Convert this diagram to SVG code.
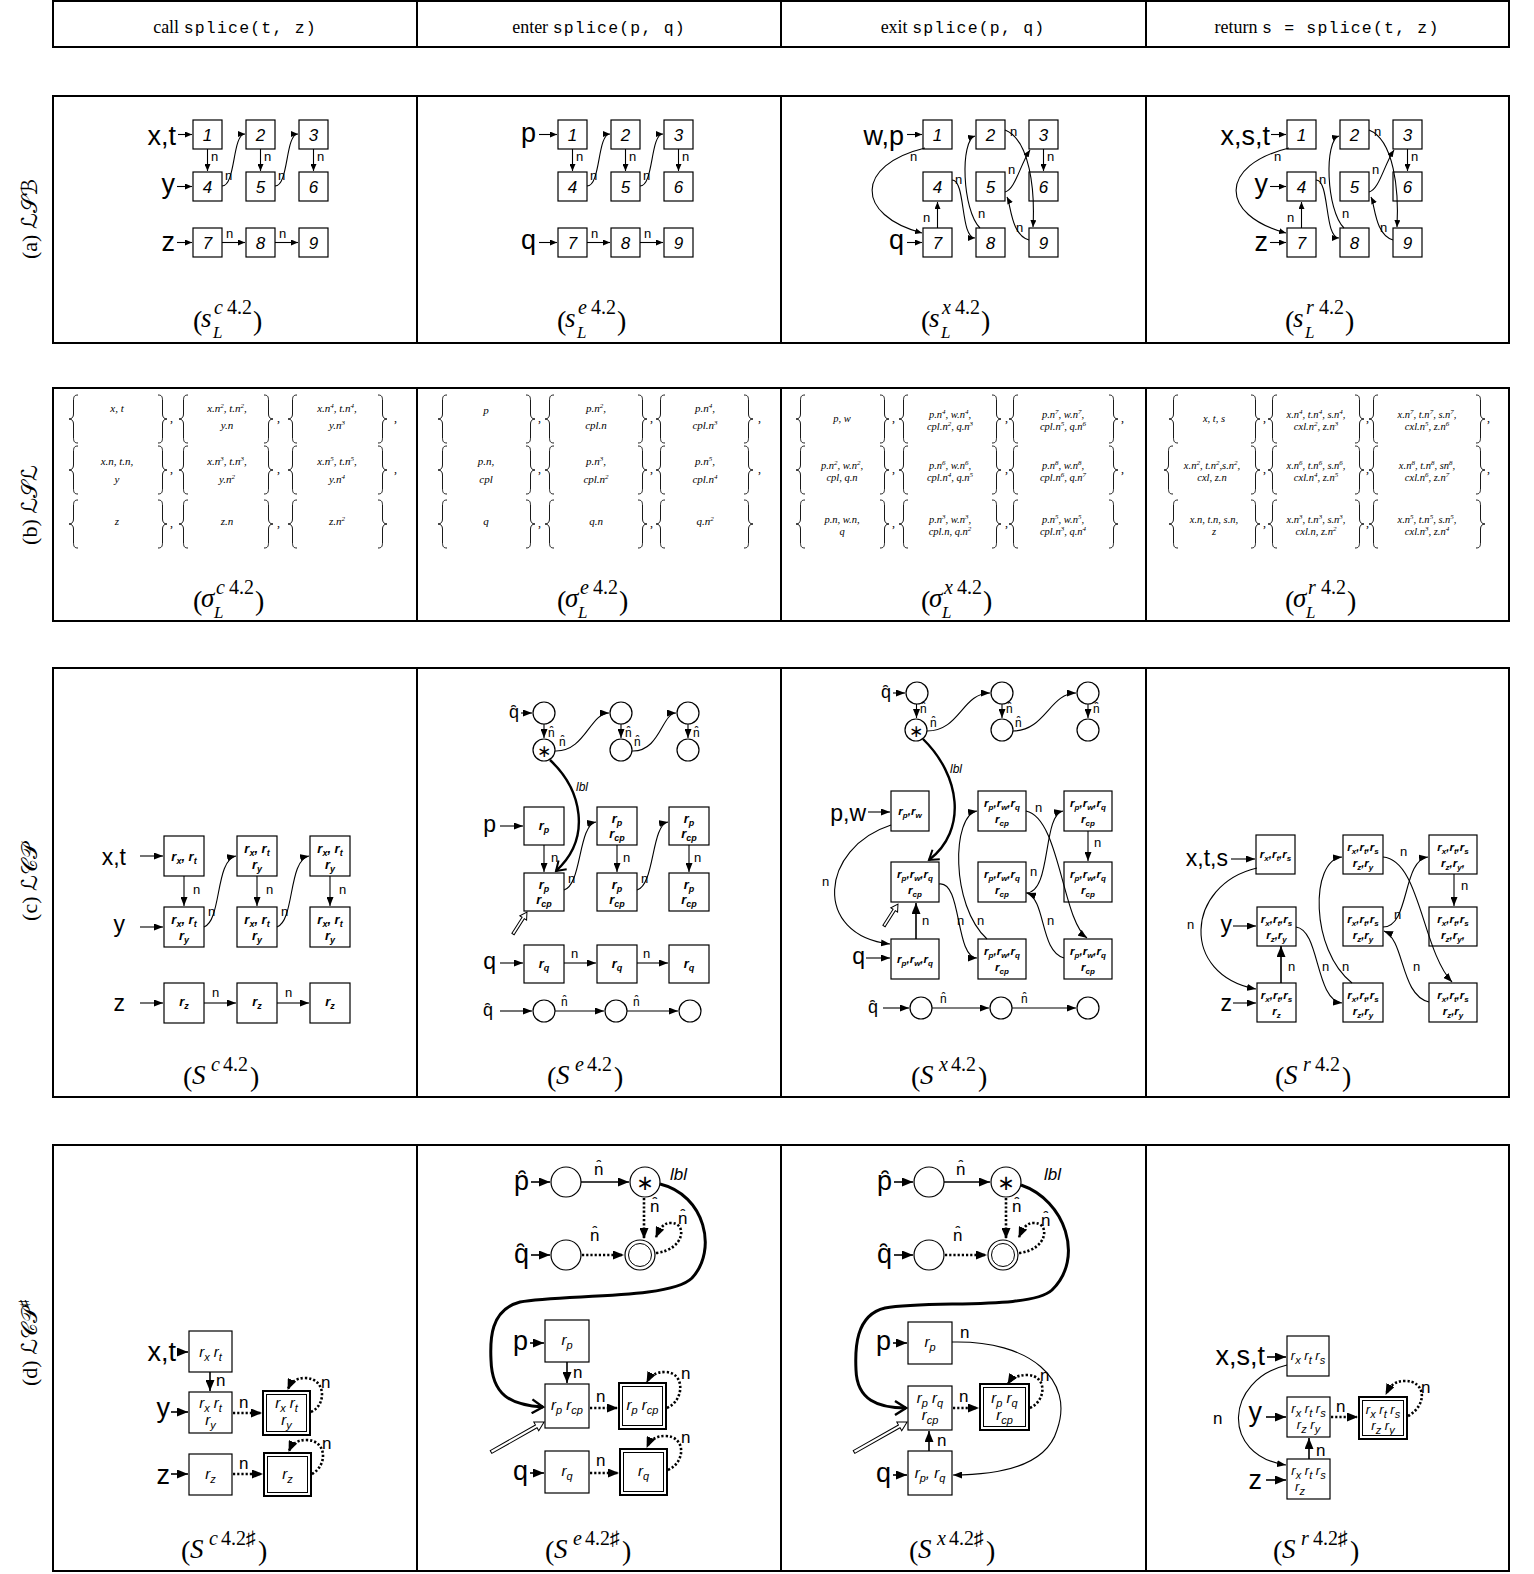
<svg xmlns="http://www.w3.org/2000/svg" width="1534" height="1574" viewBox="0 0 1534 1574">
<defs>
<style>
.fr{fill:none;stroke:#000;stroke-width:2}
.bx{fill:#fff;stroke:#000;stroke-width:1.2}
.bo{fill:#fff;stroke:#000;stroke-width:2}
.bi{fill:none;stroke:#000;stroke-width:1}
.ci{fill:#fff;stroke:#000;stroke-width:1.2}
.ea{fill:none;stroke:#000;stroke-width:1.1;marker-end:url(#ma)}
.ec{fill:none;stroke:#000;stroke-width:1.1;marker-end:url(#mc)}
.ed{fill:none;stroke:#000;stroke-width:1.6;marker-end:url(#md)}
.dt{fill:none;stroke:#000;stroke-width:2.6;stroke-dasharray:2.2 2;marker-end:url(#mt)}
.lb{fill:none;stroke:#000;stroke-width:2.4;marker-end:url(#mo)}
.lbd{fill:none;stroke:#000;stroke-width:3;marker-end:url(#mo2)}
.br{fill:none;stroke:#000;stroke-width:0.9}
.hol{fill:#fff;stroke:#000;stroke-width:1}
.L1{font-family:"Liberation Sans",Arial,sans-serif;font-size:27px;text-anchor:end}
.L2{font-family:"Liberation Sans",Arial,sans-serif;font-size:23px;text-anchor:end}
.Lh{font-family:"Liberation Sans","DejaVu Sans",sans-serif;font-size:18px;text-anchor:end}
.Lh2{font-family:"Liberation Sans","DejaVu Sans",sans-serif;font-size:27px;text-anchor:end}
.num{font-family:"Liberation Sans",Arial,sans-serif;font-size:17px;font-style:italic;text-anchor:middle}
.n1{font-family:"Liberation Sans",Arial,sans-serif;font-size:13px}
.nh{font-family:"Liberation Sans","DejaVu Sans",sans-serif;font-size:12px}
.n2{font-family:"Liberation Sans",Arial,sans-serif;font-size:17px}
.nh2{font-family:"Liberation Sans","DejaVu Sans",sans-serif;font-size:17px}
.rb{font-family:"Liberation Sans",Arial,sans-serif;font-size:13px;font-weight:bold;font-style:italic;text-anchor:middle}
.rs{font-family:"Liberation Sans",Arial,sans-serif;font-size:11.5px;font-weight:bold;font-style:italic;text-anchor:middle}
.ri{font-family:"Liberation Sans",Arial,sans-serif;font-size:15px;font-style:italic;text-anchor:middle}
.ri2{font-family:"Liberation Sans",Arial,sans-serif;font-size:13px;font-style:italic;text-anchor:middle}
.s9{font-size:9px;baseline-shift:-3px}
.s8{font-size:8px;baseline-shift:-3px}
.s11{font-size:11px;baseline-shift:-4px}
.u7{font-size:7px;baseline-shift:4px}
.st{font-family:"Liberation Serif","Times New Roman",serif;font-size:11px;font-style:italic;text-anchor:middle}
.st2{font-family:"Liberation Serif","Times New Roman",serif;font-size:10.5px;font-style:italic;text-anchor:middle}
.cm{font-family:"Liberation Serif",serif;font-size:12px}
.cap{font-family:"Liberation Serif","Times New Roman",serif;font-size:28px}
.capi{font-family:"Liberation Serif","Times New Roman",serif;font-size:27px;font-style:italic}
.cps{font-family:"Liberation Serif","Times New Roman","DejaVu Serif",serif;font-size:20px}
.cpi{font-family:"Liberation Serif","Times New Roman",serif;font-size:20px;font-style:italic}
.csb{font-family:"Liberation Serif","Times New Roman",serif;font-size:17px;font-style:italic}
.hd{font-family:"Liberation Serif","Times New Roman",serif;font-size:18px;text-anchor:middle}
.mono{font-family:"Liberation Mono","Courier New",monospace;font-size:16.5px;letter-spacing:1.2px}
.rl{font-family:"Liberation Serif","DejaVu Serif","DejaVu Sans",serif;font-size:22px;text-anchor:middle}
.lbl{font-family:"Liberation Sans",Arial,sans-serif;font-style:italic}
.ast{font-family:"DejaVu Sans",sans-serif;text-anchor:middle}
</style>
<marker id="ma" markerWidth="7" markerHeight="6" refX="7" refY="3" orient="auto" markerUnits="userSpaceOnUse"><path d="M0,0L7,3L0,6z"/></marker>
<marker id="mc" markerWidth="9" markerHeight="7" refX="9" refY="3.5" orient="auto" markerUnits="userSpaceOnUse"><path d="M0,0L9,3.5L0,7z"/></marker>
<marker id="md" markerWidth="11" markerHeight="9" refX="11" refY="4.5" orient="auto" markerUnits="userSpaceOnUse"><path d="M0,0L11,4.5L0,9z"/></marker>
<marker id="mt" markerWidth="11" markerHeight="9" refX="10" refY="4.5" orient="auto" markerUnits="userSpaceOnUse"><path d="M0,0L11,4.5L0,9z"/></marker>
<marker id="mo" markerWidth="12" markerHeight="14" refX="10" refY="7" orient="auto" markerUnits="userSpaceOnUse"><path d="M1,1L10,7L1,13" fill="none" stroke="#000" stroke-width="2"/></marker>
<marker id="mo2" markerWidth="14" markerHeight="16" refX="12" refY="8" orient="auto" markerUnits="userSpaceOnUse"><path d="M1,1L12,8L1,15" fill="none" stroke="#000" stroke-width="2.4"/></marker>
<path id="lbr" class="br" d="M9,0C5,0 4.5,2 4.5,6L4.5,19C4.5,22 3,24 0,24C3,24 4.5,26 4.5,29L4.5,42C4.5,46 5,48 9,48"/>
<path id="rbr" class="br" d="M-9,0C-5,0 -4.5,2 -4.5,6L-4.5,19C-4.5,22 -3,24 0,24C-3,24 -4.5,26 -4.5,29L-4.5,42C-4.5,46 -5,48 -9,48"/>
</defs>
<rect width="1534" height="1574" fill="#fff"/>

<g id="frames">
<rect class="fr" x="53" y="1" width="1456" height="46"/>
<path class="fr" d="M417,1V47M781,1V47M1146,1V47"/>
<rect class="fr" x="53" y="96" width="1456" height="247"/>
<path class="fr" d="M417,96V343M781,96V343M1146,96V343"/>
<rect class="fr" x="53" y="388" width="1456" height="233"/>
<path class="fr" d="M417,388V621M781,388V621M1146,388V621"/>
<rect class="fr" x="53" y="668" width="1456" height="429"/>
<path class="fr" d="M417,668V1097M781,668V1097M1146,668V1097"/>
<rect class="fr" x="53" y="1145" width="1456" height="426"/>
<path class="fr" d="M417,1145V1571M781,1145V1571M1146,1145V1571"/>
</g>

<g id="header">
<text class="hd" x="235" y="33">call <tspan class="mono">splice(t, z)</tspan></text>
<text class="hd" x="599" y="33">enter <tspan class="mono">splice(p, q)</tspan></text>
<text class="hd" x="963" y="33">exit <tspan class="mono">splice(p, q)</tspan></text>
<text class="hd" x="1327" y="33">return <tspan class="mono">s = splice(t, z)</tspan></text>
</g>

<g id="rowlabels">
<text class="rl" transform="translate(37,219) rotate(-90)">(a) ℒ𝒮ℬ</text>
<text class="rl" transform="translate(37,505) rotate(-90)">(b) ℒ𝒮ℒ</text>
<text class="rl" transform="translate(37,882) rotate(-90)">(c) ℒ𝒞𝒫</text>
<text class="rl" transform="translate(37,1343) rotate(-90)">(d) ℒ𝒞𝒫<tspan font-size="14" baseline-shift="8">♯</tspan></text>
</g>

<!-- ROW A -->
<g id="row-a">
<g id="a1" transform="translate(0,0)">
<g id="a1-n1"><rect class="bx" x="193" y="120" width="29" height="29"/><text class="num" x="207.5" y="141">1</text></g>
<g id="a1-n2"><rect class="bx" x="246" y="120" width="29" height="29"/><text class="num" x="260.5" y="141">2</text></g>
<g id="a1-n3"><rect class="bx" x="299" y="120" width="29" height="29"/><text class="num" x="313.5" y="141">3</text></g>
<g id="a1-n4"><rect class="bx" x="193" y="172" width="29" height="29"/><text class="num" x="207.5" y="193">4</text></g>
<g id="a1-n5"><rect class="bx" x="246" y="172" width="29" height="29"/><text class="num" x="260.5" y="193">5</text></g>
<g id="a1-n6"><rect class="bx" x="299" y="172" width="29" height="29"/><text class="num" x="313.5" y="193">6</text></g>
<g id="a1-n7"><rect class="bx" x="193" y="228" width="29" height="29"/><text class="num" x="207.5" y="249">7</text></g>
<g id="a1-n8"><rect class="bx" x="246" y="228" width="29" height="29"/><text class="num" x="260.5" y="249">8</text></g>
<g id="a1-n9"><rect class="bx" x="299" y="228" width="29" height="29"/><text class="num" x="313.5" y="249">9</text></g>
<g id="a1-vars"><text class="L1" x="176" y="145">x,t</text><text class="L1" x="175" y="193">y</text><text class="L1" x="175" y="251">z</text></g>
<g id="a1-edges">
<path class="ea" d="M178,134.5H192"/><path class="ea" d="M177,186.5H192"/><path class="ea" d="M177,242.5H192"/>
<path class="ea" d="M207.5,149V171"/><path class="ea" d="M222,186C236,186 232,134 245,134"/>
<path class="ea" d="M260.5,149V171"/><path class="ea" d="M275,186C289,186 285,134 298,134"/>
<path class="ea" d="M313.5,149V171"/>
<path class="ea" d="M222,242.5H245"/><path class="ea" d="M275,242.5H298"/>
<text class="n1" x="211" y="161">n</text><text class="n1" x="225" y="180">n</text><text class="n1" x="264" y="161">n</text><text class="n1" x="278" y="180">n</text><text class="n1" x="317" y="161">n</text><text class="n1" x="226" y="238">n</text><text class="n1" x="279" y="238">n</text>
</g>
</g>
<g id="a2" transform="translate(365,0)">
<g id="a2-n1"><rect class="bx" x="193" y="120" width="29" height="29"/><text class="num" x="207.5" y="141">1</text></g>
<g id="a2-n2"><rect class="bx" x="246" y="120" width="29" height="29"/><text class="num" x="260.5" y="141">2</text></g>
<g id="a2-n3"><rect class="bx" x="299" y="120" width="29" height="29"/><text class="num" x="313.5" y="141">3</text></g>
<g id="a2-n4"><rect class="bx" x="193" y="172" width="29" height="29"/><text class="num" x="207.5" y="193">4</text></g>
<g id="a2-n5"><rect class="bx" x="246" y="172" width="29" height="29"/><text class="num" x="260.5" y="193">5</text></g>
<g id="a2-n6"><rect class="bx" x="299" y="172" width="29" height="29"/><text class="num" x="313.5" y="193">6</text></g>
<g id="a2-n7"><rect class="bx" x="193" y="228" width="29" height="29"/><text class="num" x="207.5" y="249">7</text></g>
<g id="a2-n8"><rect class="bx" x="246" y="228" width="29" height="29"/><text class="num" x="260.5" y="249">8</text></g>
<g id="a2-n9"><rect class="bx" x="299" y="228" width="29" height="29"/><text class="num" x="313.5" y="249">9</text></g>
<g id="a2-vars"><text class="L1" x="171" y="142">p</text><text class="L1" x="171" y="249">q</text></g>
<g id="a2-edges">
<path class="ea" d="M174,134.5H192"/><path class="ea" d="M174,242.5H192"/>
<path class="ea" d="M207.5,149V171"/><path class="ea" d="M222,186C236,186 232,134 245,134"/>
<path class="ea" d="M260.5,149V171"/><path class="ea" d="M275,186C289,186 285,134 298,134"/>
<path class="ea" d="M313.5,149V171"/>
<path class="ea" d="M222,242.5H245"/><path class="ea" d="M275,242.5H298"/>
<text class="n1" x="211" y="161">n</text><text class="n1" x="225" y="180">n</text><text class="n1" x="264" y="161">n</text><text class="n1" x="278" y="180">n</text><text class="n1" x="317" y="161">n</text><text class="n1" x="226" y="238">n</text><text class="n1" x="279" y="238">n</text>
</g>
</g>
<g id="a3" transform="translate(730,0)">
<g id="a3-n1"><rect class="bx" x="193" y="120" width="29" height="29"/><text class="num" x="207.5" y="141">1</text></g>
<g id="a3-n2"><rect class="bx" x="246" y="120" width="29" height="29"/><text class="num" x="260.5" y="141">2</text></g>
<g id="a3-n3"><rect class="bx" x="299" y="120" width="29" height="29"/><text class="num" x="313.5" y="141">3</text></g>
<g id="a3-n4"><rect class="bx" x="193" y="172" width="29" height="29"/><text class="num" x="207.5" y="193">4</text></g>
<g id="a3-n5"><rect class="bx" x="246" y="172" width="29" height="29"/><text class="num" x="260.5" y="193">5</text></g>
<g id="a3-n6"><rect class="bx" x="299" y="172" width="29" height="29"/><text class="num" x="313.5" y="193">6</text></g>
<g id="a3-n7"><rect class="bx" x="193" y="228" width="29" height="29"/><text class="num" x="207.5" y="249">7</text></g>
<g id="a3-n8"><rect class="bx" x="246" y="228" width="29" height="29"/><text class="num" x="260.5" y="249">8</text></g>
<g id="a3-n9"><rect class="bx" x="299" y="228" width="29" height="29"/><text class="num" x="313.5" y="249">9</text></g>
<g id="a3-vars"><text class="L1" x="174" y="145">w,p</text><text class="L1" x="174" y="249">q</text></g>
<g id="a3-edges">
<path class="ea" d="M177,134.5H192"/><path class="ea" d="M177,242.5H192"/>
<path class="ea" d="M195,148C125,165 125,215 192,233"/>
<path class="ea" d="M207.5,228V202"/>
<path class="ea" d="M222,180C236,180 230,238 245,238"/>
<path class="ea" d="M250,228C232,210 230,140 245,136"/>
<path class="ea" d="M275,130C300,140 305,190 303,227"/>
<path class="ea" d="M275,192C285,190 290,165 300,150"/>
<path class="ea" d="M313.5,149V171"/>
<path class="ea" d="M299,240C281,235 281,205 277,197"/>
<text class="n1" x="180" y="161">n</text><text class="n1" x="193" y="222">n</text><text class="n1" x="225" y="184">n</text><text class="n1" x="248" y="218">n</text><text class="n1" x="280" y="136">n</text><text class="n1" x="278" y="174">n</text><text class="n1" x="317" y="161">n</text><text class="n1" x="286" y="232">n</text>
</g>
</g>
<g id="a4" transform="translate(1094,0)">
<g id="a4-n1"><rect class="bx" x="193" y="120" width="29" height="29"/><text class="num" x="207.5" y="141">1</text></g>
<g id="a4-n2"><rect class="bx" x="246" y="120" width="29" height="29"/><text class="num" x="260.5" y="141">2</text></g>
<g id="a4-n3"><rect class="bx" x="299" y="120" width="29" height="29"/><text class="num" x="313.5" y="141">3</text></g>
<g id="a4-n4"><rect class="bx" x="193" y="172" width="29" height="29"/><text class="num" x="207.5" y="193">4</text></g>
<g id="a4-n5"><rect class="bx" x="246" y="172" width="29" height="29"/><text class="num" x="260.5" y="193">5</text></g>
<g id="a4-n6"><rect class="bx" x="299" y="172" width="29" height="29"/><text class="num" x="313.5" y="193">6</text></g>
<g id="a4-n7"><rect class="bx" x="193" y="228" width="29" height="29"/><text class="num" x="207.5" y="249">7</text></g>
<g id="a4-n8"><rect class="bx" x="246" y="228" width="29" height="29"/><text class="num" x="260.5" y="249">8</text></g>
<g id="a4-n9"><rect class="bx" x="299" y="228" width="29" height="29"/><text class="num" x="313.5" y="249">9</text></g>
<g id="a4-vars"><text class="L1" x="176" y="145">x,s,t</text><text class="L1" x="174" y="193">y</text><text class="L1" x="174" y="251">z</text></g>
<g id="a4-edges">
<path class="ea" d="M177,134.5H192"/><path class="ea" d="M176,186.5H192"/><path class="ea" d="M176,242.5H192"/>
<path class="ea" d="M195,148C125,165 125,215 192,233"/>
<path class="ea" d="M207.5,228V202"/>
<path class="ea" d="M222,180C236,180 230,238 245,238"/>
<path class="ea" d="M250,228C232,210 230,140 245,136"/>
<path class="ea" d="M275,130C300,140 305,190 303,227"/>
<path class="ea" d="M275,192C285,190 290,165 300,150"/>
<path class="ea" d="M313.5,149V171"/>
<path class="ea" d="M299,240C281,235 281,205 277,197"/>
<text class="n1" x="180" y="161">n</text><text class="n1" x="193" y="222">n</text><text class="n1" x="225" y="184">n</text><text class="n1" x="248" y="218">n</text><text class="n1" x="280" y="136">n</text><text class="n1" x="278" y="174">n</text><text class="n1" x="317" y="161">n</text><text class="n1" x="286" y="232">n</text>
</g>
</g>
<g id="cap-a">
<text class="cap" x="193" y="330">(</text><text class="capi" x="201" y="327">s</text><text class="cpi" x="214" y="314">c</text><text class="cps" x="227" y="314">4.2</text><text class="csb" x="213" y="338">L</text><text class="cap" x="253" y="330">)</text>
<text class="cap" x="557" y="330">(</text><text class="capi" x="565" y="327">s</text><text class="cpi" x="578" y="314">e</text><text class="cps" x="591" y="314">4.2</text><text class="csb" x="577" y="338">L</text><text class="cap" x="617" y="330">)</text>
<text class="cap" x="921" y="330">(</text><text class="capi" x="929" y="327">s</text><text class="cpi" x="942" y="314">x</text><text class="cps" x="955" y="314">4.2</text><text class="csb" x="941" y="338">L</text><text class="cap" x="981" y="330">)</text>
<text class="cap" x="1285" y="330">(</text><text class="capi" x="1293" y="327">s</text><text class="cpi" x="1306" y="314">r</text><text class="cps" x="1319" y="314">4.2</text><text class="csb" x="1305" y="338">L</text><text class="cap" x="1345" y="330">)</text>
</g>
</g>

<!-- ROW B -->
<g id="row-b">
<g id="b-braces">
<use href="#lbr" x="69" y="395"/><use href="#rbr" x="167" y="395"/><use href="#lbr" x="179" y="395"/><use href="#rbr" x="273" y="395"/><use href="#lbr" x="288" y="395"/><use href="#rbr" x="387" y="395"/>
<use href="#lbr" x="69" y="446"/><use href="#rbr" x="167" y="446"/><use href="#lbr" x="179" y="446"/><use href="#rbr" x="273" y="446"/><use href="#lbr" x="288" y="446"/><use href="#rbr" x="387" y="446"/>
<use href="#lbr" x="69" y="500"/><use href="#rbr" x="167" y="500"/><use href="#lbr" x="179" y="500"/><use href="#rbr" x="273" y="500"/><use href="#lbr" x="288" y="500"/><use href="#rbr" x="387" y="500"/>
<use href="#lbr" x="438" y="395"/><use href="#rbr" x="535" y="395"/><use href="#lbr" x="545" y="395"/><use href="#rbr" x="647" y="395"/><use href="#lbr" x="656" y="395"/><use href="#rbr" x="753" y="395"/>
<use href="#lbr" x="438" y="446"/><use href="#rbr" x="535" y="446"/><use href="#lbr" x="545" y="446"/><use href="#rbr" x="647" y="446"/><use href="#lbr" x="656" y="446"/><use href="#rbr" x="753" y="446"/>
<use href="#lbr" x="438" y="500"/><use href="#rbr" x="535" y="500"/><use href="#lbr" x="545" y="500"/><use href="#rbr" x="647" y="500"/><use href="#lbr" x="656" y="500"/><use href="#rbr" x="753" y="500"/>
<use href="#lbr" x="796" y="395"/><use href="#rbr" x="889" y="395"/><use href="#lbr" x="899" y="395"/><use href="#rbr" x="1001" y="395"/><use href="#lbr" x="1009" y="395"/><use href="#rbr" x="1118" y="395"/>
<use href="#lbr" x="796" y="446"/><use href="#rbr" x="889" y="446"/><use href="#lbr" x="899" y="446"/><use href="#rbr" x="1001" y="446"/><use href="#lbr" x="1009" y="446"/><use href="#rbr" x="1118" y="446"/>
<use href="#lbr" x="796" y="500"/><use href="#rbr" x="889" y="500"/><use href="#lbr" x="899" y="500"/><use href="#rbr" x="1001" y="500"/><use href="#lbr" x="1009" y="500"/><use href="#rbr" x="1118" y="500"/>
<use href="#lbr" x="1169" y="395"/><use href="#rbr" x="1260" y="395"/><use href="#lbr" x="1268" y="395"/><use href="#rbr" x="1364" y="395"/><use href="#lbr" x="1369" y="395"/><use href="#rbr" x="1485" y="395"/>
<use href="#lbr" x="1164" y="446"/><use href="#rbr" x="1260" y="446"/><use href="#lbr" x="1268" y="446"/><use href="#rbr" x="1364" y="446"/><use href="#lbr" x="1369" y="446"/><use href="#rbr" x="1485" y="446"/>
<use href="#lbr" x="1169" y="500"/><use href="#rbr" x="1260" y="500"/><use href="#lbr" x="1268" y="500"/><use href="#rbr" x="1364" y="500"/><use href="#lbr" x="1369" y="500"/><use href="#rbr" x="1485" y="500"/>
</g>
<g id="b-commas" class="cm">
<text x="170" y="422">,</text><text x="277" y="422">,</text><text x="394" y="422">,</text>
<text x="170" y="473">,</text><text x="277" y="473">,</text><text x="394" y="473">,</text>
<text x="170" y="527">,</text><text x="277" y="527">,</text>
<text x="538" y="422">,</text><text x="650" y="422">,</text><text x="758" y="422">,</text>
<text x="538" y="473">,</text><text x="650" y="473">,</text><text x="758" y="473">,</text>
<text x="538" y="527">,</text><text x="650" y="527">,</text>
<text x="892" y="422">,</text><text x="1005" y="422">,</text><text x="1121" y="422">,</text>
<text x="892" y="473">,</text><text x="1005" y="473">,</text><text x="1121" y="473">,</text>
<text x="892" y="527">,</text><text x="1005" y="527">,</text>
<text x="1263" y="422">,</text><text x="1366" y="422">,</text><text x="1487" y="422">,</text>
<text x="1263" y="473">,</text><text x="1366" y="473">,</text><text x="1487" y="473">,</text>
<text x="1263" y="527">,</text><text x="1366" y="527">,</text>
</g>
<g id="b1-sets">
<text class="st" x="117" y="412">x, t</text>
<text class="st" x="227" y="412">x.n<tspan class="u7">2</tspan>, t.n<tspan class="u7">2</tspan>,</text><text class="st" x="227" y="429">y.n</text>
<text class="st" x="337" y="412">x.n<tspan class="u7">4</tspan>, t.n<tspan class="u7">4</tspan>,</text><text class="st" x="337" y="429">y.n<tspan class="u7">3</tspan></text>
<text class="st" x="117" y="465">x.n, t.n,</text><text class="st" x="117" y="483">y</text>
<text class="st" x="227" y="465">x.n<tspan class="u7">3</tspan>, t.n<tspan class="u7">3</tspan>,</text><text class="st" x="227" y="483">y.n<tspan class="u7">2</tspan></text>
<text class="st" x="337" y="465">x.n<tspan class="u7">5</tspan>, t.n<tspan class="u7">5</tspan>,</text><text class="st" x="337" y="483">y.n<tspan class="u7">4</tspan></text>
<text class="st" x="117" y="525">z</text><text class="st" x="227" y="525">z.n</text><text class="st" x="337" y="525">z.n<tspan class="u7">2</tspan></text>
</g>
<g id="b2-sets">
<text class="st" x="486" y="414">p</text>
<text class="st" x="596" y="412">p.n<tspan class="u7">2</tspan>,</text><text class="st" x="596" y="429">cpl.n</text>
<text class="st" x="705" y="412">p.n<tspan class="u7">4</tspan>,</text><text class="st" x="705" y="429">cpl.n<tspan class="u7">3</tspan></text>
<text class="st" x="486" y="465">p.n,</text><text class="st" x="486" y="483">cpl</text>
<text class="st" x="596" y="465">p.n<tspan class="u7">3</tspan>,</text><text class="st" x="596" y="483">cpl.n<tspan class="u7">2</tspan></text>
<text class="st" x="705" y="465">p.n<tspan class="u7">5</tspan>,</text><text class="st" x="705" y="483">cpl.n<tspan class="u7">4</tspan></text>
<text class="st" x="486" y="525">q</text><text class="st" x="596" y="525">q.n</text><text class="st" x="705" y="525">q.n<tspan class="u7">2</tspan></text>
</g>
<g id="b3-sets">
<text class="st2" x="842" y="422">p, w</text>
<text class="st2" x="950" y="418">p.n<tspan class="u7">4</tspan>, w.n<tspan class="u7">4</tspan>,</text><text class="st2" x="950" y="430">cpl.n<tspan class="u7">2</tspan>, q.n<tspan class="u7">3</tspan></text>
<text class="st2" x="1063" y="418">p.n<tspan class="u7">7</tspan>, w.n<tspan class="u7">7</tspan>,</text><text class="st2" x="1063" y="430">cpl.n<tspan class="u7">5</tspan>, q.n<tspan class="u7">6</tspan></text>
<text class="st2" x="842" y="469">p.n<tspan class="u7">2</tspan>, w.n<tspan class="u7">2</tspan>,</text><text class="st2" x="842" y="481">cpl, q.n</text>
<text class="st2" x="950" y="469">p.n<tspan class="u7">6</tspan>, w.n<tspan class="u7">6</tspan>,</text><text class="st2" x="950" y="481">cpl.n<tspan class="u7">4</tspan>, q.n<tspan class="u7">5</tspan></text>
<text class="st2" x="1063" y="469">p.n<tspan class="u7">8</tspan>, w.n<tspan class="u7">8</tspan>,</text><text class="st2" x="1063" y="481">cpl.n<tspan class="u7">6</tspan>, q.n<tspan class="u7">7</tspan></text>
<text class="st2" x="842" y="523">p.n, w.n,</text><text class="st2" x="842" y="535">q</text>
<text class="st2" x="950" y="523">p.n<tspan class="u7">3</tspan>, w.n<tspan class="u7">3</tspan>,</text><text class="st2" x="950" y="535">cpl.n, q.n<tspan class="u7">2</tspan></text>
<text class="st2" x="1063" y="523">p.n<tspan class="u7">5</tspan>, w.n<tspan class="u7">5</tspan>,</text><text class="st2" x="1063" y="535">cpl.n<tspan class="u7">3</tspan>, q.n<tspan class="u7">4</tspan></text>
</g>
<g id="b4-sets">
<text class="st2" x="1214" y="422">x, t, s</text>
<text class="st2" x="1316" y="418">x.n<tspan class="u7">4</tspan>, t.n<tspan class="u7">4</tspan>, s.n<tspan class="u7">4</tspan>,</text><text class="st2" x="1316" y="430">cxl.n<tspan class="u7">2</tspan>, z.n<tspan class="u7">3</tspan></text>
<text class="st2" x="1427" y="418">x.n<tspan class="u7">7</tspan>, t.n<tspan class="u7">7</tspan>, s.n<tspan class="u7">7</tspan>,</text><text class="st2" x="1427" y="430">cxl.n<tspan class="u7">5</tspan>, z.n<tspan class="u7">6</tspan></text>
<text class="st2" x="1212" y="469">x.n<tspan class="u7">2</tspan>, t.n<tspan class="u7">2</tspan>,s.n<tspan class="u7">2</tspan>,</text><text class="st2" x="1212" y="481">cxl, z.n</text>
<text class="st2" x="1316" y="469">x.n<tspan class="u7">6</tspan>, t.n<tspan class="u7">6</tspan>, s.n<tspan class="u7">6</tspan>,</text><text class="st2" x="1316" y="481">cxl.n<tspan class="u7">4</tspan>, z.n<tspan class="u7">5</tspan></text>
<text class="st2" x="1427" y="469">x.n<tspan class="u7">8</tspan>, t.n<tspan class="u7">8</tspan>, sn<tspan class="u7">8</tspan>,</text><text class="st2" x="1427" y="481">cxl.n<tspan class="u7">6</tspan>, z.n<tspan class="u7">7</tspan></text>
<text class="st2" x="1214" y="523">x.n, t.n, s.n,</text><text class="st2" x="1214" y="535">z</text>
<text class="st2" x="1316" y="523">x.n<tspan class="u7">3</tspan>, t.n<tspan class="u7">3</tspan>, s.n<tspan class="u7">3</tspan>,</text><text class="st2" x="1316" y="535">cxl.n, z.n<tspan class="u7">2</tspan></text>
<text class="st2" x="1427" y="523">x.n<tspan class="u7">5</tspan>, t.n<tspan class="u7">5</tspan>, s.n<tspan class="u7">5</tspan>,</text><text class="st2" x="1427" y="535">cxl.n<tspan class="u7">3</tspan>, z.n<tspan class="u7">4</tspan></text>
</g>
<g id="cap-b">
<text class="cap" x="193" y="610">(</text><text class="capi" x="201" y="607">σ</text><text class="cpi" x="216" y="594">c</text><text class="cps" x="229" y="594">4.2</text><text class="csb" x="214" y="618">L</text><text class="cap" x="255" y="610">)</text>
<text class="cap" x="557" y="610">(</text><text class="capi" x="565" y="607">σ</text><text class="cpi" x="580" y="594">e</text><text class="cps" x="593" y="594">4.2</text><text class="csb" x="578" y="618">L</text><text class="cap" x="619" y="610">)</text>
<text class="cap" x="921" y="610">(</text><text class="capi" x="929" y="607">σ</text><text class="cpi" x="944" y="594">x</text><text class="cps" x="957" y="594">4.2</text><text class="csb" x="942" y="618">L</text><text class="cap" x="983" y="610">)</text>
<text class="cap" x="1285" y="610">(</text><text class="capi" x="1293" y="607">σ</text><text class="cpi" x="1308" y="594">r</text><text class="cps" x="1321" y="594">4.2</text><text class="csb" x="1306" y="618">L</text><text class="cap" x="1347" y="610">)</text>
</g>
</g>

<!-- ROW C col1 -->
<g id="row-c">
<g id="c1">
<g id="c1-a"><rect class="bx" x="164" y="836" width="40" height="40"/><text class="rb" x="184" y="861">r<tspan class="s9">x</tspan>, r<tspan class="s9">t</tspan></text></g>
<g id="c1-b"><rect class="bx" x="237" y="836" width="40" height="40"/><text class="rb" x="257" y="853">r<tspan class="s9">x</tspan>, r<tspan class="s9">t</tspan></text><text class="rb" x="257" y="869">r<tspan class="s9">y</tspan></text></g>
<g id="c1-c"><rect class="bx" x="310" y="836" width="40" height="40"/><text class="rb" x="330" y="853">r<tspan class="s9">x</tspan>, r<tspan class="s9">t</tspan></text><text class="rb" x="330" y="869">r<tspan class="s9">y</tspan></text></g>
<g id="c1-d"><rect class="bx" x="164" y="907" width="40" height="40"/><text class="rb" x="184" y="924">r<tspan class="s9">x</tspan>, r<tspan class="s9">t</tspan></text><text class="rb" x="184" y="940">r<tspan class="s9">y</tspan></text></g>
<g id="c1-e"><rect class="bx" x="237" y="907" width="40" height="40"/><text class="rb" x="257" y="924">r<tspan class="s9">x</tspan>, r<tspan class="s9">t</tspan></text><text class="rb" x="257" y="940">r<tspan class="s9">y</tspan></text></g>
<g id="c1-f"><rect class="bx" x="310" y="907" width="40" height="40"/><text class="rb" x="330" y="924">r<tspan class="s9">x</tspan>, r<tspan class="s9">t</tspan></text><text class="rb" x="330" y="940">r<tspan class="s9">y</tspan></text></g>
<g id="c1-g"><rect class="bx" x="164" y="983" width="40" height="40"/><text class="rb" x="184" y="1006">r<tspan class="s9">z</tspan></text></g>
<g id="c1-h"><rect class="bx" x="237" y="983" width="40" height="40"/><text class="rb" x="257" y="1006">r<tspan class="s9">z</tspan></text></g>
<g id="c1-i"><rect class="bx" x="310" y="983" width="40" height="40"/><text class="rb" x="330" y="1006">r<tspan class="s9">z</tspan></text></g>
<g id="c1-vars"><text class="L2" x="126" y="865">x,t</text><text class="L2" x="125" y="932">y</text><text class="L2" x="125" y="1011">z</text></g>
<g id="c1-edges">
<path class="ec" d="M140,856H163"/><path class="ec" d="M140,927H163"/><path class="ec" d="M140,1003H163"/>
<path class="ec" d="M184,876V906"/><path class="ec" d="M204,927C222,920 215,860 236,856"/>
<path class="ec" d="M257,876V906"/><path class="ec" d="M277,927C295,920 288,860 309,856"/>
<path class="ec" d="M330,876V906"/>
<path class="ec" d="M204,1003H236"/><path class="ec" d="M277,1003H309"/>
<text class="n1" x="193" y="894">n</text><text class="n1" x="208" y="916">n</text><text class="n1" x="266" y="894">n</text><text class="n1" x="281" y="916">n</text><text class="n1" x="339" y="894">n</text><text class="n1" x="212" y="997">n</text><text class="n1" x="285" y="997">n</text>
</g>
</g>

<!-- ROW C col2 -->
<g id="c2">
<g id="c2-q1"><circle class="ci" cx="544" cy="713" r="11"/></g>
<g id="c2-star"><circle class="ci" cx="544" cy="750" r="11"/><text class="ast" x="544" y="757" font-size="17">∗</text></g>
<g id="c2-b"><circle class="ci" cx="621" cy="713" r="11"/></g>
<g id="c2-c"><circle class="ci" cx="621" cy="750" r="11"/></g>
<g id="c2-d"><circle class="ci" cx="688" cy="713" r="11"/></g>
<g id="c2-e"><circle class="ci" cx="688" cy="750" r="11"/></g>
<g id="c2-p1"><rect class="bx" x="524" y="807" width="40" height="38"/><text class="rb" x="544" y="830">r<tspan class="s9">p</tspan></text></g>
<g id="c2-p2"><rect class="bx" x="597" y="807" width="40" height="38"/><text class="rb" x="617" y="823">r<tspan class="s9">p</tspan></text><text class="rb" x="617" y="838">r<tspan class="s9">cp</tspan></text></g>
<g id="c2-p3"><rect class="bx" x="669" y="807" width="40" height="38"/><text class="rb" x="689" y="823">r<tspan class="s9">p</tspan></text><text class="rb" x="689" y="838">r<tspan class="s9">cp</tspan></text></g>
<g id="c2-m1"><rect class="bx" x="524" y="873" width="40" height="38"/><text class="rb" x="544" y="889">r<tspan class="s9">p</tspan></text><text class="rb" x="544" y="904">r<tspan class="s9">cp</tspan></text></g>
<g id="c2-m2"><rect class="bx" x="597" y="873" width="40" height="38"/><text class="rb" x="617" y="889">r<tspan class="s9">p</tspan></text><text class="rb" x="617" y="904">r<tspan class="s9">cp</tspan></text></g>
<g id="c2-m3"><rect class="bx" x="669" y="873" width="40" height="38"/><text class="rb" x="689" y="889">r<tspan class="s9">p</tspan></text><text class="rb" x="689" y="904">r<tspan class="s9">cp</tspan></text></g>
<g id="c2-r1"><rect class="bx" x="524" y="945" width="40" height="38"/><text class="rb" x="544" y="968">r<tspan class="s9">q</tspan></text></g>
<g id="c2-r2"><rect class="bx" x="597" y="945" width="40" height="38"/><text class="rb" x="617" y="968">r<tspan class="s9">q</tspan></text></g>
<g id="c2-r3"><rect class="bx" x="669" y="945" width="40" height="38"/><text class="rb" x="689" y="968">r<tspan class="s9">q</tspan></text></g>
<g id="c2-h1"><circle class="ci" cx="544" cy="1011" r="11"/></g>
<g id="c2-h2"><circle class="ci" cx="616" cy="1011" r="11"/></g>
<g id="c2-h3"><circle class="ci" cx="690" cy="1011" r="11"/></g>
<g id="c2-vars"><text class="Lh" x="519" y="718">q̑</text><text class="L2" x="496" y="832">p</text><text class="L2" x="496" y="969">q</text><text class="Lh" x="493" y="1016">q̑</text></g>
<g id="c2-edges">
<path class="ec" d="M521,713H532"/>
<path class="ec" d="M544,724V738"/><path class="ec" d="M555,751C585,752 590,713 609,713"/>
<path class="ec" d="M621,724V738"/><path class="ec" d="M632,751C660,752 662,713 676,713"/>
<path class="ec" d="M688,724V738"/>
<path class="lb" d="M550,760C582,790 592,838 556,871"/>
<text class="lbl" x="576" y="791" font-size="12">lbl</text>
<path class="ec" d="M500,826H523"/>
<path class="ec" d="M544,845V872"/><path class="ec" d="M617,845V872"/><path class="ec" d="M689,845V872"/>
<path class="ec" d="M564,890C582,885 578,825 596,822"/><path class="ec" d="M637,890C655,885 651,825 668,822"/>
<path class="hol" transform="translate(513,934) rotate(-57.5)" d="M0,-1.3L19,-1.3L19,-4L26,0L19,4L19,1.3L0,1.3Z"/>
<path class="ec" d="M500,963H523"/><path class="ec" d="M564,963H596"/><path class="ec" d="M637,963H668"/>
<path class="ec" d="M500,1011H532"/><path class="ec" d="M555,1011H604"/><path class="ec" d="M627,1011H678"/>
<text class="nh" x="548" y="737">n̑</text><text class="nh" x="559" y="746">n̑</text><text class="nh" x="625" y="737">n̑</text><text class="nh" x="634" y="746">n̑</text><text class="nh" x="693" y="737">n̑</text>
<text class="n1" x="551" y="862">n</text><text class="n1" x="623" y="862">n</text><text class="n1" x="694" y="862">n</text>
<text class="n1" x="568" y="883">n</text><text class="n1" x="641" y="883">n</text>
<text class="n1" x="571" y="958">n</text><text class="n1" x="643" y="958">n</text>
<text class="nh" x="561" y="1006">n̑</text><text class="nh" x="633" y="1006">n̑</text>
</g>
</g>

<!-- ROW C col3 -->
<g id="c3">
<g id="c3-q1"><circle class="ci" cx="917" cy="693" r="11"/></g>
<g id="c3-star"><circle class="ci" cx="916" cy="730" r="11"/><text class="ast" x="916" y="737" font-size="17">∗</text></g>
<g id="c3-b"><circle class="ci" cx="1002" cy="693" r="11"/></g>
<g id="c3-c"><circle class="ci" cx="1002" cy="730" r="11"/></g>
<g id="c3-d"><circle class="ci" cx="1088" cy="693" r="11"/></g>
<g id="c3-e"><circle class="ci" cx="1088" cy="730" r="11"/></g>
<g id="c3-p"><rect class="bx" x="891" y="791" width="38" height="40"/><text class="rs" x="910" y="815">r<tspan class="s8">p</tspan>,r<tspan class="s8">w</tspan></text></g>
<g id="c3-m"><rect class="bx" x="891" y="862" width="48" height="40"/><text class="rs" x="915" y="878">r<tspan class="s8">p</tspan>,r<tspan class="s8">w</tspan>,r<tspan class="s8">q</tspan></text><text class="rs" x="915" y="894">r<tspan class="s8">cp</tspan></text></g>
<g id="c3-q"><rect class="bx" x="891" y="939" width="48" height="40"/><text class="rs" x="915" y="963">r<tspan class="s8">p</tspan>,r<tspan class="s8">w</tspan>,r<tspan class="s8">q</tspan></text></g>
<g id="c3-c2a"><rect class="bx" x="978" y="791" width="48" height="40"/><text class="rs" x="1002" y="807">r<tspan class="s8">p</tspan>,r<tspan class="s8">w</tspan>,r<tspan class="s8">q</tspan></text><text class="rs" x="1002" y="823">r<tspan class="s8">cp</tspan></text></g>
<g id="c3-c2b"><rect class="bx" x="978" y="862" width="48" height="40"/><text class="rs" x="1002" y="878">r<tspan class="s8">p</tspan>,r<tspan class="s8">w</tspan>,r<tspan class="s8">q</tspan></text><text class="rs" x="1002" y="894">r<tspan class="s8">cp</tspan></text></g>
<g id="c3-c2c"><rect class="bx" x="978" y="939" width="48" height="40"/><text class="rs" x="1002" y="955">r<tspan class="s8">p</tspan>,r<tspan class="s8">w</tspan>,r<tspan class="s8">q</tspan></text><text class="rs" x="1002" y="971">r<tspan class="s8">cp</tspan></text></g>
<g id="c3-c3a"><rect class="bx" x="1064" y="791" width="48" height="40"/><text class="rs" x="1088" y="807">r<tspan class="s8">p</tspan>,r<tspan class="s8">w</tspan>,r<tspan class="s8">q</tspan></text><text class="rs" x="1088" y="823">r<tspan class="s8">cp</tspan></text></g>
<g id="c3-c3b"><rect class="bx" x="1064" y="862" width="48" height="40"/><text class="rs" x="1088" y="878">r<tspan class="s8">p</tspan>,r<tspan class="s8">w</tspan>,r<tspan class="s8">q</tspan></text><text class="rs" x="1088" y="894">r<tspan class="s8">cp</tspan></text></g>
<g id="c3-c3c"><rect class="bx" x="1064" y="939" width="48" height="40"/><text class="rs" x="1088" y="955">r<tspan class="s8">p</tspan>,r<tspan class="s8">w</tspan>,r<tspan class="s8">q</tspan></text><text class="rs" x="1088" y="971">r<tspan class="s8">cp</tspan></text></g>
<g id="c3-h1"><circle class="ci" cx="921" cy="1008" r="11"/></g>
<g id="c3-h2"><circle class="ci" cx="1001" cy="1008" r="11"/></g>
<g id="c3-h3"><circle class="ci" cx="1088" cy="1008" r="11"/></g>
<g id="c3-vars"><text class="Lh" x="891" y="698">q̑</text><text class="L2" x="866" y="821">p,w</text><text class="L2" x="865" y="964">q</text><text class="Lh" x="878" y="1013">q̑</text></g>
<g id="c3-edges">
<path class="ec" d="M893,693H905"/>
<path class="ec" d="M916.5,704V718"/><path class="ec" d="M927,731C960,731 962,693 990,693"/>
<path class="ec" d="M1002,704V718"/><path class="ec" d="M1013,731C1045,731 1050,693 1076,693"/>
<path class="ec" d="M1088,704V718"/>
<path class="lb" d="M923,739C960,775 968,830 929,860"/>
<text class="lbl" x="950" y="773" font-size="12">lbl</text>
<path class="ec" d="M868,812H890"/><path class="ec" d="M866,958H890"/>
<path class="ec" d="M891,825C820,848 812,935 890,944"/>
<path class="ed" d="M916,939V903"/>
<path class="hol" transform="translate(884,926) rotate(-57.5)" d="M0,-1.3L19,-1.3L19,-4L26,0L19,4L19,1.3L0,1.3Z"/>
<path class="ec" d="M939,884C962,880 955,958 977,958"/>
<path class="ec" d="M987,939C950,905 952,815 977,811"/>
<path class="ec" d="M1026,811C1060,818 1062,920 1087,938"/>
<path class="ec" d="M1026,893C1052,893 1042,815 1063,811"/>
<path class="ec" d="M1088,831V861"/>
<path class="ec" d="M1064,958C1040,952 1046,900 1027,893"/>
<path class="ec" d="M883,1008H909"/><path class="ec" d="M932,1008H989"/><path class="ec" d="M1012,1008H1076"/>
<text class="nh" x="920" y="713">n̑</text><text class="nh" x="930" y="727">n̑</text><text class="nh" x="1006" y="713">n̑</text><text class="nh" x="1015" y="727">n̑</text><text class="nh" x="1093" y="713">n̑</text>
<text class="n1" x="822" y="886">n</text><text class="n1" x="922" y="925">n</text><text class="n1" x="957" y="925">n</text><text class="n1" x="977" y="925">n</text><text class="n1" x="1035" y="812">n</text><text class="n1" x="1030" y="876">n</text><text class="n1" x="1094" y="847">n</text><text class="n1" x="1047" y="925">n</text>
<text class="nh" x="940" y="1003">n̑</text><text class="nh" x="1021" y="1003">n̑</text>
</g>
</g>

<!-- ROW C col4 -->
<g id="c4">
<g id="c4-a"><rect class="bx" x="1256" y="835" width="39" height="39"/><text class="rs" x="1275.5" y="858">r<tspan class="s8">x</tspan>,r<tspan class="s8">t</tspan>,r<tspan class="s8">s</tspan></text></g>
<g id="c4-y"><rect class="bx" x="1257" y="907" width="39" height="39"/><text class="rs" x="1276.5" y="923">r<tspan class="s8">x</tspan>,r<tspan class="s8">t</tspan>,r<tspan class="s8">s</tspan></text><text class="rs" x="1276.5" y="939">r<tspan class="s8">z</tspan>,r<tspan class="s8">y</tspan></text></g>
<g id="c4-z"><rect class="bx" x="1257" y="983" width="39" height="39"/><text class="rs" x="1276.5" y="999">r<tspan class="s8">x</tspan>,r<tspan class="s8">t</tspan>,r<tspan class="s8">s</tspan></text><text class="rs" x="1276.5" y="1015">r<tspan class="s8">z</tspan></text></g>
<g id="c4-c2a"><rect class="bx" x="1343" y="835" width="40" height="39"/><text class="rs" x="1363" y="851">r<tspan class="s8">x</tspan>,r<tspan class="s8">t</tspan>,r<tspan class="s8">s</tspan></text><text class="rs" x="1363" y="867">r<tspan class="s8">z</tspan>,r<tspan class="s8">y</tspan></text></g>
<g id="c4-c2b"><rect class="bx" x="1343" y="907" width="40" height="39"/><text class="rs" x="1363" y="923">r<tspan class="s8">x</tspan>,r<tspan class="s8">t</tspan>,r<tspan class="s8">s</tspan></text><text class="rs" x="1363" y="939">r<tspan class="s8">z</tspan>,r<tspan class="s8">y</tspan></text></g>
<g id="c4-c2c"><rect class="bx" x="1343" y="983" width="40" height="39"/><text class="rs" x="1363" y="999">r<tspan class="s8">x</tspan>,r<tspan class="s8">t</tspan>,r<tspan class="s8">s</tspan></text><text class="rs" x="1363" y="1015">r<tspan class="s8">z</tspan>,r<tspan class="s8">y</tspan></text></g>
<g id="c4-c3a"><rect class="bx" x="1429" y="835" width="48" height="39"/><text class="rs" x="1453" y="851">r<tspan class="s8">x</tspan>,r<tspan class="s8">t</tspan>,r<tspan class="s8">s</tspan></text><text class="rs" x="1453" y="867">r<tspan class="s8">z</tspan>,r<tspan class="s8">y</tspan>,</text></g>
<g id="c4-c3b"><rect class="bx" x="1429" y="907" width="48" height="39"/><text class="rs" x="1453" y="923">r<tspan class="s8">x</tspan>,r<tspan class="s8">t</tspan>,r<tspan class="s8">s</tspan></text><text class="rs" x="1453" y="939">r<tspan class="s8">z</tspan>,r<tspan class="s8">y</tspan>,</text></g>
<g id="c4-c3c"><rect class="bx" x="1429" y="983" width="48" height="39"/><text class="rs" x="1453" y="999">r<tspan class="s8">x</tspan>,r<tspan class="s8">t</tspan>,r<tspan class="s8">s</tspan></text><text class="rs" x="1453" y="1015">r<tspan class="s8">z</tspan>,r<tspan class="s8">y</tspan></text></g>
<g id="c4-vars"><text class="L2" x="1228" y="866">x,t,s</text><text class="L2" x="1232" y="932">y</text><text class="L2" x="1232" y="1011">z</text></g>
<g id="c4-edges">
<path class="ec" d="M1231,859H1255"/><path class="ec" d="M1233,926H1256"/><path class="ec" d="M1233,1003H1256"/>
<path class="ec" d="M1257,868C1185,885 1180,975 1256,989"/>
<path class="ed" d="M1281,983V946"/>
<path class="ec" d="M1296,927C1320,930 1315,1000 1342,1003"/>
<path class="ec" d="M1352,983C1310,950 1310,860 1342,857"/>
<path class="ec" d="M1383,857C1420,860 1422,950 1452,982"/>
<path class="ec" d="M1383,927C1410,927 1402,860 1428,857"/>
<path class="ec" d="M1454,874V906"/>
<path class="ec" d="M1429,1002C1400,995 1405,940 1384,931"/>
<text class="n1" x="1187" y="929">n</text><text class="n1" x="1288" y="971">n</text><text class="n1" x="1322" y="971">n</text><text class="n1" x="1342" y="971">n</text><text class="n1" x="1400" y="856">n</text><text class="n1" x="1394" y="919">n</text><text class="n1" x="1461" y="890">n</text><text class="n1" x="1413" y="971">n</text>
</g>
</g>
<g id="cap-c">
<text class="cap" x="183" y="1086">(</text><text class="capi" x="192" y="1084">S</text><text class="cpi" x="211" y="1071">c</text><text class="cps" x="223" y="1071">4.2</text><text class="cap" x="250" y="1086">)</text>
<text class="cap" x="547" y="1086">(</text><text class="capi" x="556" y="1084">S</text><text class="cpi" x="575" y="1071">e</text><text class="cps" x="587" y="1071">4.2</text><text class="cap" x="614" y="1086">)</text>
<text class="cap" x="911" y="1086">(</text><text class="capi" x="920" y="1084">S</text><text class="cpi" x="939" y="1071">x</text><text class="cps" x="951" y="1071">4.2</text><text class="cap" x="978" y="1086">)</text>
<text class="cap" x="1275" y="1086">(</text><text class="capi" x="1284" y="1084">S</text><text class="cpi" x="1303" y="1071">r</text><text class="cps" x="1315" y="1071">4.2</text><text class="cap" x="1342" y="1086">)</text>
</g>
</g>

<!-- ROW D -->
<g id="row-d">
<g id="d1">
<g id="d1-xt"><rect class="bx" x="189" y="1331" width="43" height="41"/><text class="ri" x="210.5" y="1357">r<tspan class="s11">x</tspan>  r<tspan class="s11">t</tspan></text></g>
<g id="d1-y"><rect class="bx" x="189" y="1392" width="43" height="41"/><text class="ri" x="210.5" y="1408">r<tspan class="s11">x</tspan>  r<tspan class="s11">t</tspan></text><text class="ri" x="210.5" y="1425">r<tspan class="s11">y</tspan></text></g>
<g id="d1-ys"><rect class="bo" x="263" y="1391" width="47" height="44"/><rect class="bi" x="266.5" y="1394.5" width="40" height="37"/><text class="ri" x="286.5" y="1408">r<tspan class="s11">x</tspan>  r<tspan class="s11">t</tspan></text><text class="ri" x="286.5" y="1425">r<tspan class="s11">y</tspan></text></g>
<g id="d1-z"><rect class="bx" x="189" y="1454" width="43" height="41"/><text class="ri" x="210.5" y="1479">r<tspan class="s11">z</tspan></text></g>
<g id="d1-zs"><rect class="bo" x="264" y="1453" width="47" height="43"/><rect class="bi" x="267.5" y="1456.5" width="40" height="36"/><text class="ri" x="287.5" y="1479">r<tspan class="s11">z</tspan></text></g>
<g id="d1-vars"><text class="Lh2" x="176" y="1361">x,t</text><text class="Lh2" x="170" y="1417">y</text><text class="Lh2" x="170" y="1484">z</text></g>
<g id="d1-edges">
<path class="ed" d="M177,1352H188"/><path class="ed" d="M171,1412H188"/><path class="ed" d="M171,1474H188"/>
<path class="ed" d="M210,1372V1391"/>
<path class="dt" d="M233,1413H261"/>
<path class="dt" d="M311,1412C327,1405 326,1378 305,1378C296,1378 291,1382 288,1389"/>
<path class="dt" d="M233,1474H262"/>
<path class="dt" d="M312,1474C328,1465 327,1440 306,1440C297,1440 292,1444 289,1451"/>
<text class="n2" x="216" y="1386">n</text><text class="n2" x="239" y="1408">n</text><text class="n2" x="321" y="1388">n</text><text class="n2" x="239" y="1469">n</text><text class="n2" x="322" y="1449">n</text>
</g>
</g>

<g id="d2">
<g id="d2-p1"><circle class="ci" cx="566" cy="1182" r="15"/></g>
<g id="d2-star"><circle class="ci" cx="645" cy="1182" r="15"/><text class="ast" x="645" y="1190" font-size="21">∗</text></g>
<g id="d2-q1"><circle class="ci" cx="566" cy="1255" r="15"/></g>
<g id="d2-dc"><circle class="ci" cx="640" cy="1255" r="15"/><circle class="bi" cx="640" cy="1255" r="11.5"/></g>
<g id="d2-p"><rect class="bx" x="545" y="1320" width="44" height="42"/><text class="ri" x="567" y="1345">r<tspan class="s11">p</tspan></text></g>
<g id="d2-m"><rect class="bx" x="545" y="1384" width="44" height="44"/><text class="ri" x="567" y="1410">r<tspan class="s11">p</tspan> r<tspan class="s11">cp</tspan></text></g>
<g id="d2-ms"><rect class="bo" x="619" y="1383" width="47" height="46"/><rect class="bi" x="622.5" y="1386.5" width="40" height="39"/><text class="ri" x="642.5" y="1410">r<tspan class="s11">p</tspan> r<tspan class="s11">cp</tspan></text></g>
<g id="d2-q"><rect class="bx" x="545" y="1451" width="44" height="42"/><text class="ri" x="567" y="1476">r<tspan class="s11">q</tspan></text></g>
<g id="d2-qs"><rect class="bo" x="620" y="1449" width="47" height="46"/><rect class="bi" x="623.5" y="1452.5" width="40" height="39"/><text class="ri" x="643.5" y="1476">r<tspan class="s11">q</tspan></text></g>
<g id="d2-vars"><text class="Lh2" x="529" y="1190">p̑</text><text class="Lh2" x="529" y="1263">q̑</text><text class="Lh2" x="528" y="1350">p</text><text class="Lh2" x="528" y="1480">q</text></g>
<g id="d2-edges">
<path class="ed" d="M531,1182H550"/><path class="ed" d="M581,1182H629"/>
<path class="ed" d="M531,1255H550"/>
<path class="dt" d="M582,1255H623"/>
<path class="dt" d="M644,1198V1238"/>
<path class="dt" d="M656,1253C685,1250 688,1222 670,1223C664,1223 660,1228 656,1237"/>
<path class="lbd" d="M660,1184C705,1195 718,1250 692,1278C670,1300 560,1294 520,1302C490,1310 490,1340 491,1360C492,1395 510,1405 543,1407"/>
<text class="lbl" x="670" y="1180" font-size="17">lbl</text>
<path class="ed" d="M530,1343H544"/><path class="ed" d="M530,1473H544"/>
<path class="ed" d="M567,1362V1383"/>
<path class="dt" d="M590,1408H617"/>
<path class="dt" d="M667,1408C685,1400 685,1372 665,1372C656,1372 650,1376 647,1382"/>
<path class="dt" d="M590,1473H618"/>
<path class="dt" d="M668,1470C686,1462 686,1436 665,1436C656,1436 650,1440 647,1447"/>
<path class="hol" transform="translate(491,1452) rotate(-29.5)" d="M0,-1.6L52,-1.6L52,-5L61,0L52,5L52,1.6L0,1.6Z"/>
<text class="nh2" x="594" y="1175">n̑</text><text class="nh2" x="590" y="1241">n̑</text><text class="nh2" x="650" y="1212">n̑</text><text class="nh2" x="678" y="1224">n̑</text>
<text class="n2" x="573" y="1378">n</text><text class="n2" x="596" y="1402">n</text><text class="n2" x="681" y="1379">n</text><text class="n2" x="596" y="1466">n</text><text class="n2" x="681" y="1443">n</text>
</g>
</g>

<g id="d3">
<g id="d3-p1"><circle class="ci" cx="929" cy="1182" r="15"/></g>
<g id="d3-star"><circle class="ci" cx="1006" cy="1182" r="15"/><text class="ast" x="1006" y="1190" font-size="21">∗</text></g>
<g id="d3-q1"><circle class="ci" cx="929" cy="1255" r="15"/></g>
<g id="d3-dc"><circle class="ci" cx="1003" cy="1255" r="15"/><circle class="bi" cx="1003" cy="1255" r="11.5"/></g>
<g id="d3-p"><rect class="bx" x="908" y="1322" width="44" height="42"/><text class="ri" x="930" y="1347">r<tspan class="s11">p</tspan></text></g>
<g id="d3-m"><rect class="bx" x="908" y="1386" width="44" height="44"/><text class="ri" x="930" y="1403">r<tspan class="s11">p</tspan> r<tspan class="s11">q</tspan></text><text class="ri" x="930" y="1420">r<tspan class="s11">cp</tspan></text></g>
<g id="d3-ms"><rect class="bo" x="980" y="1384" width="49" height="46"/><rect class="bi" x="983.5" y="1387.5" width="42" height="39"/><text class="ri" x="1004.5" y="1403">r<tspan class="s11">p</tspan> r<tspan class="s11">q</tspan></text><text class="ri" x="1004.5" y="1420">r<tspan class="s11">cp</tspan></text></g>
<g id="d3-q"><rect class="bx" x="908" y="1451" width="44" height="44"/><text class="ri" x="930" y="1478">r<tspan class="s11">p</tspan>, r<tspan class="s11">q</tspan></text></g>
<g id="d3-vars"><text class="Lh2" x="892" y="1190">p̑</text><text class="Lh2" x="892" y="1263">q̑</text><text class="Lh2" x="891" y="1350">p</text><text class="Lh2" x="891" y="1482">q</text></g>
<g id="d3-edges">
<path class="ed" d="M894,1182H913"/><path class="ed" d="M944,1182H990"/>
<path class="ed" d="M894,1255H913"/>
<path class="dt" d="M945,1255H986"/>
<path class="dt" d="M1006,1198V1238"/>
<path class="dt" d="M1019,1253C1048,1250 1051,1222 1033,1223C1027,1223 1023,1228 1019,1237"/>
<path class="lbd" d="M1021,1185C1065,1200 1085,1258 1052,1290C1030,1310 930,1300 885,1308C855,1315 855,1350 856,1370C857,1400 878,1408 906,1408"/>
<text class="lbl" x="1044" y="1180" font-size="17">lbl</text>
<path class="ed" d="M893,1343H907"/><path class="ed" d="M893,1475H907"/>
<path class="ec" d="M952,1342C1030,1340 1075,1380 1057,1430C1045,1470 990,1475 953,1475"/>
<path class="ed" d="M929,1451V1431"/>
<path class="dt" d="M953,1408H978"/>
<path class="dt" d="M1030,1408C1047,1400 1047,1375 1027,1375C1017,1375 1011,1379 1008,1384"/>
<path class="hol" transform="translate(854,1452) rotate(-29.5)" d="M0,-1.6L52,-1.6L52,-5L61,0L52,5L52,1.6L0,1.6Z"/>
<text class="nh2" x="956" y="1175">n̑</text><text class="nh2" x="953" y="1241">n̑</text><text class="nh2" x="1012" y="1212">n̑</text><text class="nh2" x="1041" y="1226">n̑</text>
<text class="n2" x="960" y="1338">n</text><text class="n2" x="937" y="1446">n</text><text class="n2" x="959" y="1402">n</text><text class="n2" x="1040" y="1381">n</text>
</g>
</g>

<g id="d4">
<g id="d4-xst"><rect class="bx" x="1287" y="1336" width="42" height="40"/><text class="ri2" x="1308" y="1360">r<tspan class="s11">x</tspan> r<tspan class="s11">t</tspan> r<tspan class="s11">s</tspan></text></g>
<g id="d4-y"><rect class="bx" x="1287" y="1397" width="43" height="40"/><text class="ri2" x="1308.5" y="1413">r<tspan class="s11">x</tspan> r<tspan class="s11">t</tspan> r<tspan class="s11">s</tspan></text><text class="ri2" x="1308.5" y="1429">r<tspan class="s11">z</tspan>  r<tspan class="s11">y</tspan></text></g>
<g id="d4-ys"><rect class="bo" x="1359" y="1397" width="48" height="42"/><rect class="bi" x="1362.5" y="1400.5" width="41" height="35"/><text class="ri2" x="1383" y="1414">r<tspan class="s11">x</tspan> r<tspan class="s11">t</tspan> r<tspan class="s11">s</tspan></text><text class="ri2" x="1383" y="1430">r<tspan class="s11">z</tspan> r<tspan class="s11">y</tspan></text></g>
<g id="d4-z"><rect class="bx" x="1287" y="1459" width="43" height="40"/><text class="ri2" x="1308.5" y="1475">r<tspan class="s11">x</tspan> r<tspan class="s11">t</tspan> r<tspan class="s11">s</tspan></text><text class="ri2" x="1300" y="1491">r<tspan class="s11">z</tspan></text></g>
<g id="d4-vars"><text class="Lh2" x="1265" y="1365">x,s,t</text><text class="Lh2" x="1262" y="1421">y</text><text class="Lh2" x="1262" y="1489">z</text></g>
<g id="d4-edges">
<path class="ed" d="M1267,1357H1286"/><path class="ed" d="M1266,1417H1286"/><path class="ed" d="M1266,1480H1286"/>
<path class="ec" d="M1287,1365C1225,1380 1220,1455 1286,1465"/>
<path class="ed" d="M1309,1459V1438"/>
<path class="dt" d="M1331,1417H1357"/>
<path class="dt" d="M1408,1416C1428,1405 1426,1380 1404,1381C1395,1381 1390,1386 1386,1394"/>
<text class="n2" x="1213" y="1424">n</text><text class="n2" x="1316" y="1456">n</text><text class="n2" x="1336" y="1412">n</text><text class="n2" x="1421" y="1393">n</text>
</g>
</g>
<g id="cap-d">
<text class="cap" x="181" y="1560">(</text><text class="capi" x="190" y="1558">S</text><text class="cpi" x="209" y="1545">c</text><text class="cps" x="221" y="1545">4.2♯</text><text class="cap" x="258" y="1560">)</text>
<text class="cap" x="545" y="1560">(</text><text class="capi" x="554" y="1558">S</text><text class="cpi" x="573" y="1545">e</text><text class="cps" x="585" y="1545">4.2♯</text><text class="cap" x="622" y="1560">)</text>
<text class="cap" x="909" y="1560">(</text><text class="capi" x="918" y="1558">S</text><text class="cpi" x="937" y="1545">x</text><text class="cps" x="949" y="1545">4.2♯</text><text class="cap" x="986" y="1560">)</text>
<text class="cap" x="1273" y="1560">(</text><text class="capi" x="1282" y="1558">S</text><text class="cpi" x="1301" y="1545">r</text><text class="cps" x="1313" y="1545">4.2♯</text><text class="cap" x="1350" y="1560">)</text>
</g>
</g>
</svg>
